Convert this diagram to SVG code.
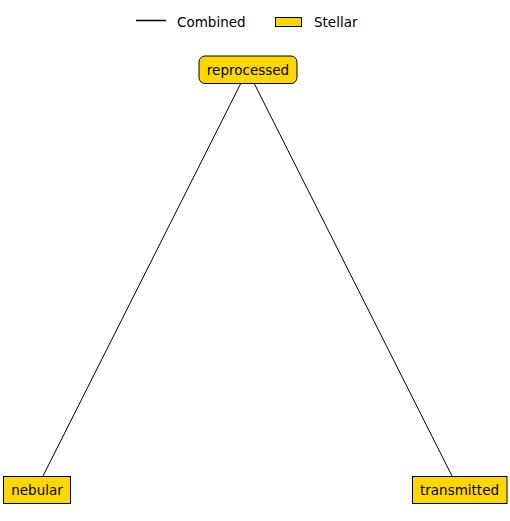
<svg xmlns="http://www.w3.org/2000/svg" width="510" height="521" viewBox="0 0 510 521">
<style>
text{font-family:"DejaVu Sans","Liberation Sans",sans-serif;font-size:13.5px;fill:#000}
.box{fill:#FFD700;stroke:#000;stroke-width:1}
.edge{stroke:#000;stroke-width:1;fill:none}
</style>
<rect width="510" height="521" fill="#fff"/>
<g id="legend">
<line x1="136" y1="20.5" x2="166" y2="20.5" stroke="#000" stroke-width="1.5"/>
<text x="177" y="27">Combined</text>
<rect x="275.5" y="17.5" width="26" height="9" class="box"/>
<text x="314" y="27">Stellar</text>
</g>
<g id="connectors">
<line class="edge" x1="241" y1="83" x2="43" y2="476"/>
<line class="edge" x1="254" y1="83" x2="452" y2="476"/>
</g>
<g id="reprocessed">
<rect x="199" y="56" width="98" height="27.5" rx="6" class="box"/>
<text x="248" y="74.5" text-anchor="middle">reprocessed</text>
</g>
<g id="nebular">
<rect x="3.5" y="476.5" width="67" height="27" class="box"/>
<text x="37" y="494.5" text-anchor="middle">nebular</text>
</g>
<g id="transmitted">
<rect x="412.5" y="476.5" width="94.5" height="27" class="box"/>
<text x="459.5" y="494.5" text-anchor="middle">transmitted</text>
</g>
</svg>
